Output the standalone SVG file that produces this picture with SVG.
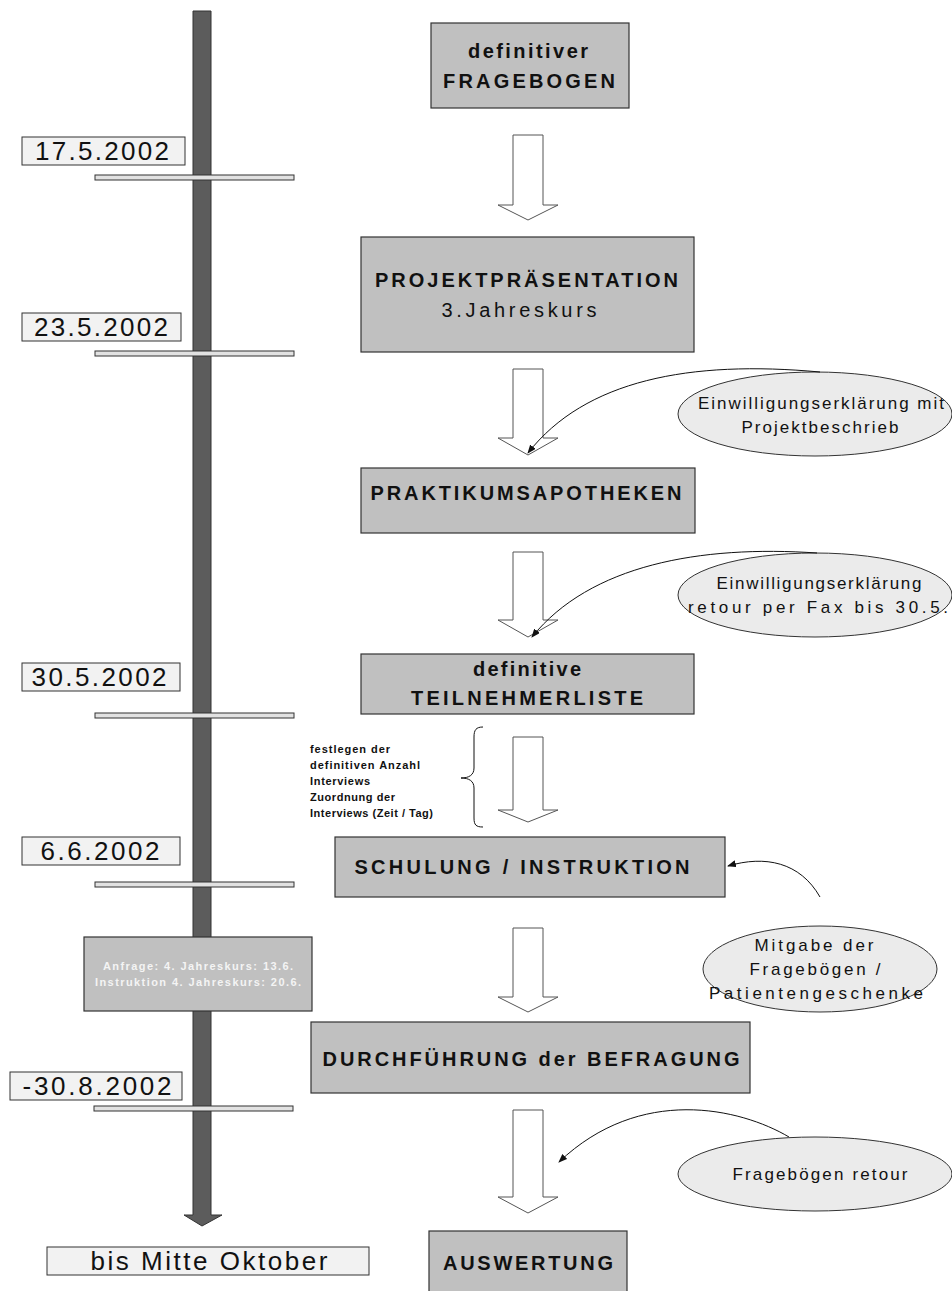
<svg xmlns="http://www.w3.org/2000/svg" width="952" height="1291" viewBox="0 0 952 1291">
<defs>
<style>
.box{fill:#c0c0c0;stroke:#333;stroke-width:1.2}
.date{fill:#f2f2f2;stroke:#333;stroke-width:1}
.tick{fill:#e2e2e2;stroke:#333;stroke-width:1}
.ell{fill:#ebebeb;stroke:#333;stroke-width:1}
.blk{fill:#fff;stroke:#555;stroke-width:1}
.cur{fill:none;stroke:#111;stroke-width:1}
.bar{fill:#5c5c5c;stroke:#333;stroke-width:1}
text{font-family:"Liberation Sans",Arial,sans-serif;fill:#111}
.m{text-anchor:middle}
.b{font-weight:bold;font-size:20px}
.r{font-size:20px}
.d{font-size:26px}
.e{font-size:17px}
.s{font-size:11px;font-weight:bold}
.w{fill:#f4f4f4}
</style>
<marker id="ah" markerWidth="9" markerHeight="7" refX="8" refY="3.5" orient="auto" markerUnits="userSpaceOnUse"><path d="M0,0 L9,3.5 L0,7 Z" fill="#111"/></marker>
</defs>
<rect width="952" height="1291" fill="#fff"/>

<g id="timeline">
<polygon class="bar" points="193,11 211,11 211,1215 222,1215 202,1226 184,1215 193,1215"/>
<rect class="tick" x="95" y="175" width="199" height="5"/>
<rect class="tick" x="95" y="351" width="199" height="5"/>
<rect class="tick" x="95" y="713" width="199" height="5"/>
<rect class="tick" x="95" y="882" width="199" height="5"/>
<rect class="tick" x="94" y="1106" width="199" height="5"/>
</g>

<g id="date1"><rect class="date" x="22" y="137" width="163" height="28"/><text class="d m" x="102" y="160" textLength="134" lengthAdjust="spacing">17.5.2002</text></g>
<g id="date2"><rect class="date" x="22" y="313" width="159" height="28"/><text class="d m" x="101" y="336" textLength="134" lengthAdjust="spacing">23.5.2002</text></g>
<g id="date3"><rect class="date" x="22" y="663" width="158" height="28"/><text class="d m" x="99" y="686" textLength="135" lengthAdjust="spacing">30.5.2002</text></g>
<g id="date4"><rect class="date" x="22" y="837" width="158" height="28"/><text class="d m" x="100" y="860" textLength="119" lengthAdjust="spacing">6.6.2002</text></g>
<g id="date5"><rect class="date" x="10" y="1072" width="172" height="28"/><text class="d m" x="97" y="1095" textLength="149" lengthAdjust="spacing">-30.8.2002</text></g>
<g id="date6"><rect class="date" x="47" y="1247" width="322" height="28"/><text class="d m" x="209" y="1270" textLength="237" lengthAdjust="spacing">bis Mitte Oktober</text></g>

<g id="info">
<rect class="box" x="84" y="937" width="228" height="74"/>
<text class="s m w" x="198" y="970" textLength="190" lengthAdjust="spacing">Anfrage: 4. Jahreskurs: 13.6.</text>
<text class="s m w" x="198" y="986" textLength="206" lengthAdjust="spacing">Instruktion 4. Jahreskurs: 20.6.</text>
</g>

<g id="n1"><rect class="box" x="431" y="23" width="198" height="85"/>
<text class="b m" x="528" y="58" textLength="120" lengthAdjust="spacing">definitiver</text>
<text class="b m" x="529" y="88" textLength="172" lengthAdjust="spacing">FRAGEBOGEN</text></g>

<g id="n2"><rect class="box" x="361" y="237" width="333" height="115"/>
<text class="b m" x="526.5" y="287" textLength="303" lengthAdjust="spacing">PROJEKTPRÄSENTATION</text>
<text class="r m" x="519" y="317" textLength="155" lengthAdjust="spacing">3.Jahreskurs</text></g>

<g id="n3"><rect class="box" x="361" y="468" width="334" height="65"/>
<text class="b m" x="526" y="500" textLength="311" lengthAdjust="spacing">PRAKTIKUMSAPOTHEKEN</text></g>

<g id="n4"><rect class="box" x="361" y="654" width="333" height="60"/>
<text class="b m" x="527" y="676" textLength="108" lengthAdjust="spacing">definitive</text>
<text class="b m" x="527" y="705" textLength="232" lengthAdjust="spacing">TEILNEHMERLISTE</text></g>

<g id="n5"><rect class="box" x="335" y="837" width="390" height="60"/>
<text class="b m" x="522" y="874" textLength="335" lengthAdjust="spacing">SCHULUNG / INSTRUKTION</text></g>

<g id="n6"><rect class="box" x="311" y="1022" width="439" height="71"/>
<text class="b m" x="531" y="1066" textLength="417" lengthAdjust="spacing">DURCHFÜHRUNG der BEFRAGUNG</text></g>

<g id="n7"><rect class="box" x="429" y="1231" width="198" height="70"/>
<text class="b m" x="528" y="1270" textLength="170" lengthAdjust="spacing">AUSWERTUNG</text></g>

<g id="e1"><ellipse class="ell" cx="815" cy="414" rx="137" ry="42"/>
<text class="e m" x="821" y="409" textLength="246" lengthAdjust="spacing">Einwilligungserklärung mit</text>
<text class="e m" x="820" y="433" textLength="157" lengthAdjust="spacing">Projektbeschrieb</text></g>

<g id="e2"><ellipse class="ell" cx="815" cy="595" rx="137" ry="42"/>
<text class="e m" x="819" y="589" textLength="205" lengthAdjust="spacing">Einwilligungserklärung</text>
<text class="e m" x="818" y="613" textLength="260" lengthAdjust="spacing">retour per Fax bis 30.5.</text></g>

<g id="e3"><ellipse class="ell" cx="820" cy="969" rx="117" ry="43"/>
<text class="e m" x="814" y="951" textLength="119" lengthAdjust="spacing">Mitgabe der</text>
<text class="e m" x="815" y="975" textLength="131" lengthAdjust="spacing">Fragebögen /</text>
<text class="e m" x="816" y="999" textLength="214" lengthAdjust="spacing">Patientengeschenke</text></g>

<g id="e4"><ellipse class="ell" cx="815" cy="1174" rx="137" ry="37"/>
<text class="e m" x="820" y="1180" textLength="175" lengthAdjust="spacing">Fragebögen retour</text></g>

<g id="note">
<text class="s" x="310" y="753" textLength="80" lengthAdjust="spacing">festlegen der</text>
<text class="s" x="310" y="769" textLength="110" lengthAdjust="spacing">definitiven Anzahl</text>
<text class="s" x="310" y="785" textLength="60" lengthAdjust="spacing">Interviews</text>
<text class="s" x="310" y="801" textLength="85" lengthAdjust="spacing">Zuordnung der</text>
<text class="s" x="310" y="817" textLength="123" lengthAdjust="spacing">Interviews (Zeit / Tag)</text>
<path class="cur" d="M483,727 C476,727 474,730 474,737 L474,768 C474,775 469,778 461,778 C469,778 474,781 474,788 L474,818 C474,825 476,827 483,827"/>
</g>

<g id="connectors">
<polygon class="blk" points="513,135 543,135 543,205 558,205 528,220 498,205 513,205"/>
<polygon class="blk" points="513,369 543,369 543,438 558,438 528,455 498,438 513,438"/>
<polygon class="blk" points="513,552 543,552 543,620 558,620 528,637 498,620 513,620"/>
<polygon class="blk" points="513,737 543,737 543,810 558,810 528,822 498,810 513,810"/>
<polygon class="blk" points="513,928 543,928 543,997 558,997 528,1012 498,997 513,997"/>
<polygon class="blk" points="513,1110 543,1110 543,1197 558,1197 528,1213 498,1197 513,1197"/>
<path class="cur" marker-end="url(#ah)" d="M820,372 C690,360 585,380 528,453"/>
<path class="cur" marker-end="url(#ah)" d="M817,553 C700,545 590,565 532,637"/>
<path class="cur" marker-end="url(#ah)" d="M820,897 C800,862 765,855 728,866"/>
<path class="cur" marker-end="url(#ah)" d="M789,1137 C740,1108 640,1085 559,1162"/>
</g>
</svg>
